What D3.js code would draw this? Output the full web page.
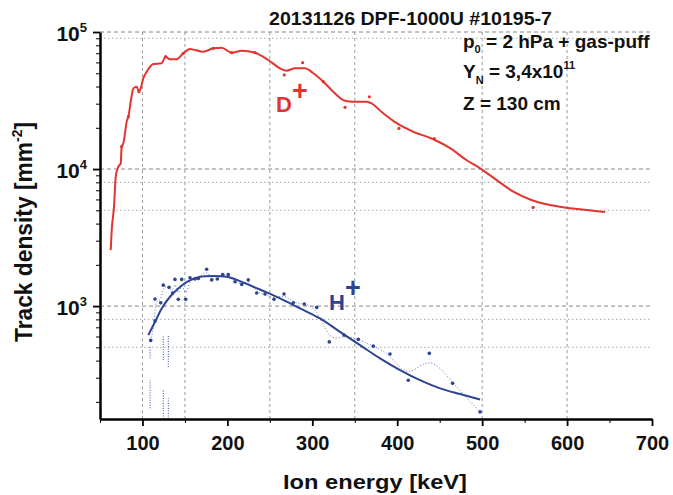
<!DOCTYPE html>
<html lang="en">
<head>
    <meta charset="UTF-8">
    <title>Track density vs ion energy</title>
    <style>
        body { margin: 0; background: #fff; }
        text { font-family: "Liberation Sans", Arial, sans-serif; font-weight: bold; }
    </style>
    <script src="https://d3js.org/d3.v7.min.js"></script>
</head>
<body>
<svg id="chart" width="673" height="495"></svg>

<script>
    // D+ : smoothed red curve (energy keV, track density mm^-2)
    const redE = [62.6, 63.8, 66.5, 68.5, 71.6, 74.4, 75.5, 77.5, 79.4, 81.4, 83.4, 86.5, 89.3, 93.2, 95.9, 97.9,
        101, 105, 112.8, 122.6, 127.3, 132.4, 140.3, 148.1, 156, 161.9, 171.6, 183.4, 193.3, 205, 216.9, 232.5,
        248.2, 262, 269.8, 279.6, 291.4, 301.2, 313, 324.7, 338.5, 348.3, 364, 368, 383.6, 399.4, 419, 442.5,
        462.2, 481.8, 499.5, 517.1, 536.7, 556.4, 579.9, 599.5, 623.1, 644.7];
    const redV = [2560, 3590, 5300, 8800, 10400, 11000, 14600, 15400, 18200, 22200, 24100, 31900, 38800, 39900, 36700, 38800,
        45900, 51300, 58400, 59100, 66100, 63200, 63200, 69900, 75100, 73900, 71800, 76000, 76800, 70600, 73000, 70600,
        62500, 54300, 52200, 54300, 54300, 50000, 43400, 36600, 31500, 31000, 31000, 30500, 25500, 21600, 18700, 16500,
        14200, 11600, 9950, 8300, 6830, 6000, 5460, 5220, 5020, 4860];
    // D+ : measured points
    const redDotE = [75.5, 83.4, 95.9, 127.3, 148.1, 183.4, 205, 232.5, 267, 288.6, 313, 338.5, 367.2, 402, 443.7, 560];
    const redDotV = [14600, 24100, 36700, 66100, 69900, 76000, 70600, 70600, 48600, 59700, 43400, 28200, 33700, 19800, 16700, 5250];

    // H+ : measured points
    const blueE = [109.7, 114.8, 114.8, 121.5, 124.5, 131.3, 135.5, 138.3, 142.2, 146.2, 150.9, 156, 161.9, 165.8,
        175.6, 181.5, 188.2, 194.5, 201.1, 209, 216.9, 224.6, 234.5, 244.3, 254.9, 266.7, 277.6, 290.6, 305.2,
        320, 337.3, 354.2, 371.8, 391.5, 413, 437.8, 465.2, 497.5];
    const blueV = [562, 778, 1125, 1056, 1422, 1370, 1245, 1566, 1120, 1566, 1120, 1610, 1575, 1590,
        1855, 1553, 1575, 1702, 1702, 1504, 1440, 1553, 1245, 1225, 1120, 1225, 1056, 1035, 978,
        548, 614, 572, 510, 447, 288, 452, 273, 169];
    // H+ : fitted curve
    const fitE = [106.9, 114.8, 122.7, 132.4, 142.2, 154, 167.8, 183.4, 199.2, 214.9, 230.5, 246.3, 262, 285.5,
        309, 332.6, 356.2, 379.7, 403.3, 426.8, 450.4, 474, 497.5];
    const fitV = [614, 767, 962, 1170, 1346, 1521, 1636, 1660, 1636, 1521, 1383, 1259, 1137, 962,
        813, 649, 519, 415, 341, 288, 251, 228, 208];
    // H+ : dotted vertical error segments [energy, low, high]
    const errE = [109, 109, 124.6, 124.6, 130.5, 130.5];
    const errLo = [417, 180, 404, 150, 359, 150];
    const errHi = [505, 288, 604, 244, 616, 213];

    const xMajor = [100, 200, 300, 400, 500, 600, 700];
    const xMinor = [50, 150, 250, 350, 450, 550, 650];
    const yMajor = [1e3, 1e4, 1e5];
    const yMinor = [200, 300, 400, 500, 600, 700, 800, 900, 2000, 3000, 4000, 5000, 6000, 7000, 8000, 9000,
        20000, 30000, 40000, 50000, 60000, 70000, 80000, 90000];
    const xGrid = [100, 150, 250, 350, 500, 600];
    const yGridDash = [1e3, 1e4, 1e5];
    const yGridDot = [500, 800, 5000, 8000, 90000];

    const red = "#e3342f", blue = "#2d4394";
    const svg = d3.select("#chart");
    const x = d3.scaleLinear().domain([50, 700]).range([100, 652]);
    const y = d3.scaleLog().domain([150, 1e5]).range([419, 32]);

    // grid
    const grid = svg.append("g");
    grid.selectAll(".gx").data(xGrid).join("line")
        .attr("x1", d => x(d)).attr("x2", d => x(d))
        .attr("y1", y(1e5)).attr("y2", y(150))
        .attr("stroke", "#999").attr("stroke-width", 1).attr("stroke-dasharray", "3,3");
    grid.selectAll(".gyd").data(yGridDash).join("line")
        .attr("x1", 100).attr("x2", 652)
        .attr("y1", d => y(d)).attr("y2", d => y(d))
        .attr("stroke", "#888").attr("stroke-width", 1).attr("stroke-dasharray", "4,3");
    grid.selectAll(".gyo").data(yGridDot).join("line")
        .attr("x1", 100).attr("x2", 652)
        .attr("y1", d => y(d)).attr("y2", d => y(d))
        .attr("stroke", "#aaa").attr("stroke-width", 1).attr("stroke-dasharray", "1.5,2.5");

    // H+ series
    const bluePts = d3.zip(blueE, blueV);
    svg.append("path")
        .datum(bluePts)
        .attr("fill", "none").attr("stroke", "#6274c4").attr("stroke-width", 1)
        .attr("stroke-dasharray", "1,2")
        .attr("d", d3.line().x(d => x(d[0])).y(d => y(d[1])).curve(d3.curveBasis));
    svg.append("g").selectAll("line").data(d3.range(errE.length)).join("line")
        .attr("x1", i => x(errE[i])).attr("x2", i => x(errE[i]))
        .attr("y1", i => y(errLo[i])).attr("y2", i => y(errHi[i]))
        .attr("stroke", "#5468c0").attr("stroke-width", 1.2).attr("stroke-dasharray", "1,1.5");
    svg.append("g").selectAll("circle").data(bluePts).join("circle")
        .attr("cx", d => x(d[0])).attr("cy", d => y(d[1])).attr("r", 1.8)
        .attr("fill", blue);
    svg.append("path")
        .datum(d3.zip(fitE, fitV))
        .attr("fill", "none").attr("stroke", blue).attr("stroke-width", 2)
        .attr("d", d3.line().x(d => x(d[0])).y(d => y(d[1])).curve(d3.curveCatmullRom));

    // D+ series
    svg.append("path")
        .datum(d3.zip(redE, redV))
        .attr("fill", "none").attr("stroke", red).attr("stroke-width", 2)
        .attr("d", d3.line().x(d => x(d[0])).y(d => y(d[1])).curve(d3.curveMonotoneX));
    svg.append("g").selectAll("circle").data(d3.zip(redDotE, redDotV)).join("circle")
        .attr("cx", d => x(d[0])).attr("cy", d => y(d[1])).attr("r", 1.6)
        .attr("fill", red);

    // axes
    const axX = svg.append("g").attr("transform", "translate(0,419)")
        .call(d3.axisBottom(x).tickValues(xMajor).tickSize(7).tickSizeOuter(0).tickFormat(d3.format("d")));
    svg.append("g").attr("transform", "translate(0,419)")
        .call(d3.axisBottom(x).tickValues(xMinor).tickSize(4).tickFormat(""))
        .select(".domain").remove();
    axX.select(".domain").attr("stroke", "#000").attr("stroke-width", 2.5);
    axX.selectAll(".tick line").attr("stroke-width", 1.8);
    axX.selectAll(".tick text")
        .attr("font-size", 20).attr("font-family", "Liberation Sans, Arial, sans-serif")
        .attr("font-weight", "bold").attr("fill", "#111").attr("dy", 0).attr("y", 30.5);

    const axY = svg.append("g").attr("transform", "translate(100,0)")
        .call(d3.axisLeft(y).tickValues(yMajor).tickSize(7).tickSizeOuter(0).tickFormat(""));
    svg.append("g").attr("transform", "translate(100,0)")
        .call(d3.axisLeft(y).tickValues(yMinor).tickSize(4).tickFormat(""))
        .select(".domain").remove();
    axY.select(".domain").attr("stroke", "#000").attr("stroke-width", 2.5);
    axY.selectAll(".tick line").attr("stroke-width", 1.8);
    axY.selectAll(".tick").each(function (d) {
        const t = d3.select(this).append("text")
            .attr("x", -13).attr("y", 8.5).attr("fill", "#111")
            .attr("text-anchor", "end").attr("font-size", 21);
        t.append("tspan").text("10");
        t.append("tspan").attr("font-size", 13).attr("dy", -9.5).text(Math.round(Math.log10(d)));
    });

    // axis titles
    svg.append("text").attr("x", 375).attr("y", 489).attr("text-anchor", "middle")
        .attr("font-size", 21).attr("fill", "#111")
        .attr("textLength", 184).attr("lengthAdjust", "spacingAndGlyphs")
        .text("Ion energy [keV]");
    const yt = svg.append("text").attr("transform", "translate(32,232) rotate(-90)")
        .attr("text-anchor", "middle").attr("font-size", 23).attr("fill", "#111")
        .attr("textLength", 220).attr("lengthAdjust", "spacingAndGlyphs");
    yt.append("tspan").text("Track density [mm");
    yt.append("tspan").attr("font-size", 14).attr("dy", -10).text("-2");
    yt.append("tspan").attr("dy", 10).text("]");

    // title and annotations
    svg.append("text").attr("x", 269).attr("y", 25).attr("font-size", 19).attr("fill", "#111")
        .attr("textLength", 283).attr("lengthAdjust", "spacingAndGlyphs")
        .text("20131126 DPF-1000U #10195-7");
    const a1 = svg.append("text").attr("x", 463).attr("y", 48).attr("font-size", 19).attr("fill", "#111");
    a1.append("tspan").text("p");
    a1.append("tspan").attr("font-size", 11).attr("dy", 5).text("0");
    a1.append("tspan").attr("dy", -5).text(" = 2 hPa + gas-puff");
    const a2 = svg.append("text").attr("x", 463).attr("y", 78).attr("font-size", 19).attr("fill", "#111");
    a2.append("tspan").text("Y");
    a2.append("tspan").attr("font-size", 11).attr("dy", 6).text("N");
    a2.append("tspan").attr("dy", -6).text(" = 3,4x10");
    a2.append("tspan").attr("font-size", 11).attr("dy", -9).text("11");
    svg.append("text").attr("x", 463).attr("y", 110).attr("font-size", 19).attr("fill", "#111")
        .text("Z = 130 cm");

    // series labels
    const dl = svg.append("text").attr("x", 276).attr("y", 112).attr("font-size", 22).attr("fill", red);
    dl.append("tspan").text("D");
    dl.append("tspan").attr("font-size", 27).attr("dy", -12).attr("dx", 0).text("+");
    const hl = svg.append("text").attr("x", 329).attr("y", 310).attr("font-size", 22).attr("fill", blue);
    hl.append("tspan").text("H");
    hl.append("tspan").attr("font-size", 27).attr("dy", -13).attr("dx", 0).text("+");
</script>
</body>
</html>
